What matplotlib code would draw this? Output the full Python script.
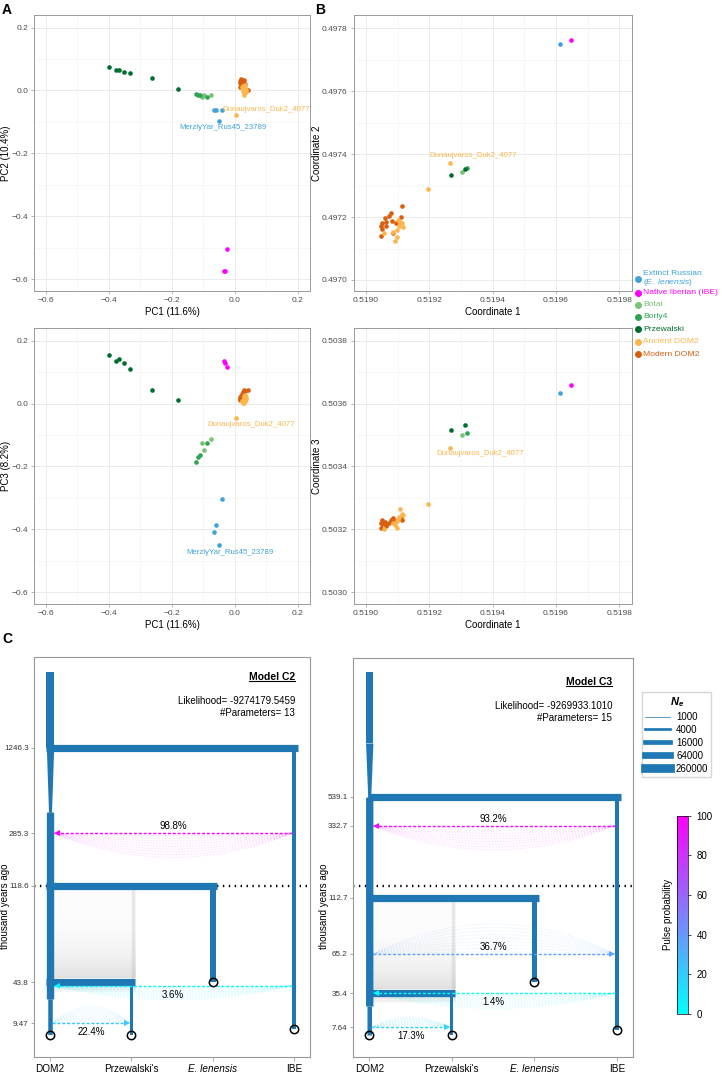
import matplotlib
matplotlib.use('Agg')
import matplotlib.pyplot as plt
import numpy as np
from matplotlib.lines import Line2D
from matplotlib.colors import Normalize
from matplotlib.cm import ScalarMappable
from matplotlib.ticker import FuncFormatter, NullLocator

plt.rcParams['font.family'] = ['Liberation Sans', 'DejaVu Sans']
plt.rcParams['mathtext.fontset'] = 'custom'
plt.rcParams['mathtext.rm'] = 'Liberation Sans'
plt.rcParams['mathtext.it'] = 'Liberation Sans:italic'
plt.rcParams['mathtext.bf'] = 'Liberation Sans:bold:italic'

# ---------------- data: PCA (rows = PC1, PC2, PC3) ----------------
group_labels = ['Extinct Russian\n($\\mathit{E.\\ lenensis}$)', 'Native Iberian (IBE)', 'Botai',
                'Borly4', 'Przewalski', 'Ancient DOM2', 'Modern DOM2']
group_colors = ['#3fa2d8', '#ff00ff', '#74c476', '#31a354', '#006d2c', '#fdb64e', '#d95f0e']

rus_pca = [[-0.065, -0.060, -0.041, -0.050],
           [-0.063, -0.061, -0.061, -0.098],
           [-0.409, -0.387, -0.305, -0.450]]
ibe_pca = [[-0.034, -0.032, -0.025],
           [-0.573, -0.575, -0.503],
           [0.136, 0.130, 0.117]]
botai_pca = [[-0.077, -0.097, -0.103],
             [-0.013, -0.015, -0.020],
             [-0.114, -0.147, -0.124]]
borly_pca = [[-0.124, -0.116, -0.109, -0.089],
             [-0.011, -0.013, -0.014, -0.022],
             [-0.185, -0.170, -0.165, -0.124]]
prz_pca = [[-0.399, -0.378, -0.367, -0.353, -0.332, -0.263, -0.181],
           [0.073, 0.066, 0.066, 0.059, 0.057, 0.039, 0.006],
           [0.155, 0.136, 0.141, 0.128, 0.110, 0.045, 0.013]]
anc_pca = [[0.003, 0.022, 0.025, 0.027, 0.029, 0.031, 0.033, 0.035, 0.030, 0.026, 0.028, 0.034, 0.032, 0.037],
           [-0.077, 0.012, 0.005, -0.002, 0.008, 0.000, 0.010, -0.005, -0.009, 0.015, -0.016, 0.004, 0.018, 0.002],
           [-0.046, 0.010, 0.005, 0.012, 0.002, 0.018, 0.008, 0.015, 0.025, 0.003, 0.020, 0.028, 0.012, 0.022]]
mod_pca = [[0.015, 0.018, 0.020, 0.022, 0.024, 0.025, 0.027, 0.028, 0.030, 0.017, 0.021, 0.026, 0.032, 0.043],
           [0.030, 0.025, 0.033, 0.020, 0.028, 0.015, 0.024, 0.032, 0.018, 0.012, 0.035, 0.010, 0.022, 0.001],
           [0.015, 0.020, 0.025, 0.028, 0.032, 0.030, 0.036, 0.040, 0.044, 0.012, 0.022, 0.026, 0.040, 0.043]]

# ---------------- data: MDS (rows = coord 1, 2, 3) ----------------
rus_mds = [[0.519611], [0.497750], [0.503634]]
ibe_mds = [[0.519647], [0.497764], [0.503661]]
botai_mds = [[0.519302], [0.497344], [0.503499]]
borly_mds = [[0.519320], [0.497355], [0.503508]]
prz_mds = [[0.519267, 0.519313], [0.497333, 0.497352], [0.503515, 0.503531]]
anc_mds = [[0.519265, 0.519196, 0.519107, 0.519113, 0.519105, 0.519097, 0.519092, 0.519058, 0.519099, 0.519086, 0.519116, 0.519102],
           [0.497372, 0.497290, 0.497185, 0.497182, 0.497170, 0.497159, 0.497125, 0.497148, 0.497138, 0.497154, 0.497167, 0.497191],
           [0.503459, 0.503279, 0.503263, 0.503250, 0.503240, 0.503226, 0.503213, 0.503201, 0.503203, 0.503219, 0.503245, 0.503232]]
mod_mds = [[0.519113, 0.519079, 0.519074, 0.519111, 0.519060, 0.519063, 0.519049, 0.519047, 0.519052, 0.519081, 0.519094, 0.519047, 0.519084, 0.519063],
           [0.497235, 0.497212, 0.497203, 0.497200, 0.497196, 0.497185, 0.497180, 0.497170, 0.497161, 0.497189, 0.497180, 0.497141, 0.497148, 0.497172],
           [0.503229, 0.503231, 0.503219, 0.503237, 0.503222, 0.503211, 0.503229, 0.503205, 0.503216, 0.503231, 0.503225, 0.503220, 0.503235, 0.503214]]

pca_sets = [rus_pca, ibe_pca, botai_pca, borly_pca, prz_pca, mod_pca, anc_pca]
mds_sets = [rus_mds, ibe_mds, botai_mds, borly_mds, prz_mds, mod_mds, anc_mds]
set_colors = ['#3fa2d8', '#ff00ff', '#74c476', '#31a354', '#006d2c', '#d95f0e', '#fdb64e']

# ---------------- data: demographic models ----------------
deme_names = ['DOM2', "Przewalski's", 'E. lenensis', 'IBE']
ne_legend = [1000, 4000, 16000, 64000, 260000]

c2_ticks = [9.47, 43.8, 118.6, 285.3, 1246.3]
c2_knot_t = [0, 4.5, 9.47, 43.8, 118.6, 285.3, 1246.3, 2500]
c2_knot_p = [22.2, 27.4, 33.4, 74.4, 171.0, 223.4, 309.0, 384.4]
c2_dom2 = [(2500, 1246.3, 1e5, 1e5), (1246.3, 527, 1e5, 5e3), (527, 30, 1e5, 1e5), (30, 0, 1.4e4, 1.4e4)]
c2_splits = [(1246.3, 3, 1.3e4, 4.5), (118.6, 2, 2.4e4, 43.8), (43.8, 1, 6e3, 0)]
c2_pulses = [(3, 0, 285.3, 98.8, 1, -1, 24), (3, 0, 41.0, 3.6, -1, -1, 14), (0, 1, 9.47, 22.4, -1, 1, 17)]

c3_ticks = [7.64, 35.4, 65.2, 112.7, 332.7, 539.1]
c3_knot_t = [0, 4.5, 7.64, 35.4, 43.8, 65.2, 112.7, 118.6, 332.7, 539.1, 2000]
c3_knot_p = [21.7, 26.7, 29.4, 63.4, 74.4, 102.7, 159.0, 171.0, 231.0, 260.0, 384.4]
c3_dom2 = [(2000, 1170, 1e5, 1e5), (1170, 539.1, 1e5, 5e3), (539.1, 25, 1e5, 1e5), (25, 0, 1.4e4, 1.4e4)]
c3_splits = [(539.1, 3, 1.3e4, 4.5), (112.7, 2, 2.4e4, 43.8), (35.4, 1, 6e3, 0)]
c3_pulses = [(3, 0, 332.7, 93.2, 1, -1, 24), (0, 3, 65.2, 36.7, 1, 1, 30),
             (3, 0, 35.4, 1.4, -1, -1, 15), (0, 1, 7.64, 17.3, -1, 1, 10)]
divider_time = 118.6

DEME_BLUE = '#1f77b4'
W, H = 721, 1074
fig = plt.figure(figsize=(W / 100, H / 100), dpi=100)


def px_axes(l, t, r, b):
    return fig.add_axes([l / W, 1 - b / H, (r - l) / W, (b - t) / H])


def minus_fmt(nd):
    return FuncFormatter(lambda v, p: f'{v:.{nd}f}'.replace('-', '\u2212'))


def gg_style(ax, xt, yt, xd, yd):
    ax.set_xticks(xt)
    ax.set_yticks(yt)
    ax.set_xticks((np.array(xt[:-1]) + np.array(xt[1:])) / 2, minor=True)
    ax.set_yticks((np.array(yt[:-1]) + np.array(yt[1:])) / 2, minor=True)
    ax.xaxis.set_major_formatter(minus_fmt(xd))
    ax.yaxis.set_major_formatter(minus_fmt(yd))
    ax.grid(which='major', color='#ebebeb', lw=0.7)
    ax.grid(which='minor', color='#f3f3f3', lw=0.45)
    ax.set_axisbelow(True)
    for s in ax.spines.values():
        s.set_color('#9a9a9a')
        s.set_linewidth(0.7)
    ax.tick_params(which='major', labelsize=6, labelcolor='#4d4d4d', color='#9a9a9a', length=2.5, width=0.5, pad=2)
    ax.tick_params(which='minor', length=0)


def scatter_sets(ax, sets, i, j):
    for s, c in zip(sets, set_colors):
        ax.scatter(s[i], s[j], s=11, color=c, linewidths=0, zorder=3)


pc_xt = [-0.6, -0.4, -0.2, 0.0, 0.2]
pc_yt = [-0.6, -0.4, -0.2, 0.0, 0.2]
c1_t = [0.5190, 0.5192, 0.5194, 0.5196, 0.5198]

# Panel A
axA1 = px_axes(34.3, 15, 310, 291)
scatter_sets(axA1, pca_sets, 0, 1)
axA1.set_xlim(-0.637, 0.239)
axA1.set_ylim(-0.638, 0.240)
gg_style(axA1, pc_xt, pc_yt, 1, 1)
axA1.set_xlabel('PC1 (11.6%)', fontsize=7, labelpad=2)
axA1.set_ylabel('PC2 (10.4%)', fontsize=7)
axA1.yaxis.set_label_coords(-0.086, 0.5)
axA1.text(0.101, -0.060, 'Dunaujvaros_Duk2_4077', color='#fdb64e', fontsize=5.6, ha='center', va='center')
axA1.text(-0.0376, -0.117, 'MerzlyYar_Rus45_23789', color='#3fa2d8', fontsize=5.6, ha='center', va='center')

axA2 = px_axes(34.3, 328.3, 310, 604)
scatter_sets(axA2, pca_sets, 0, 2)
axA2.set_xlim(-0.637, 0.239)
axA2.set_ylim(-0.638, 0.240)
gg_style(axA2, pc_xt, pc_yt, 1, 1)
axA2.set_xlabel('PC1 (11.6%)', fontsize=7, labelpad=2)
axA2.set_ylabel('PC3 (8.2%)', fontsize=7)
axA2.yaxis.set_label_coords(-0.086, 0.5)
axA2.text(0.052, -0.065, 'Dunaujvaros_Duk2_4077', color='#fdb64e', fontsize=5.6, ha='center', va='center')
axA2.text(-0.0153, -0.473, 'MerzlyYar_Rus45_23789', color='#3fa2d8', fontsize=5.6, ha='center', va='center')

# Panel B
axB1 = px_axes(354, 15, 631.7, 291)
scatter_sets(axB1, mds_sets, 0, 1)
axB1.set_xlim(0.518962, 0.519839)
axB1.set_ylim(0.496965, 0.497842)
gg_style(axB1, c1_t, [0.4970, 0.4972, 0.4974, 0.4976, 0.4978], 4, 4)
axB1.set_xlabel('Coordinate 1', fontsize=7, labelpad=2)
axB1.set_ylabel('Coordinate 2', fontsize=7)
axB1.yaxis.set_label_coords(-0.116, 0.5)
axB1.text(0.519339, 0.497395, 'Dunaujvaros_Duk2_4077', color='#fdb64e', fontsize=5.6, ha='center', va='center')

axB2 = px_axes(354, 328.3, 631.7, 604)
scatter_sets(axB2, mds_sets, 0, 2)
axB2.set_xlim(0.518962, 0.519839)
axB2.set_ylim(0.502962, 0.503840)
gg_style(axB2, c1_t, [0.5030, 0.5032, 0.5034, 0.5036, 0.5038], 4, 4)
axB2.set_xlabel('Coordinate 1', fontsize=7, labelpad=2)
axB2.set_ylabel('Coordinate 3', fontsize=7)
axB2.yaxis.set_label_coords(-0.116, 0.5)
axB2.text(0.519361, 0.503441, 'Dunaujvaros_Duk2_4077', color='#fdb64e', fontsize=5.6, ha='center', va='center')

# group legend (key dot + coloured label per group)
key_y = [279.3, 292.7, 304.5, 316.8, 329.3, 341.8, 354.3]
for lab, col, y in zip(group_labels, group_colors, key_y):
    fig.add_artist(Line2D([637.5 / W], [1 - y / H], ls='', marker='o', ms=4, color=col,
                          transform=fig.transFigure))
    fig.text(643 / W, 1 - y / H, lab, color=col, fontsize=6.1, ha='left', va='center',
             linespacing=0.95)


# ---------------- Panel C ----------------
def make_scale(kt, kp):
    kt = np.asarray(kt, float)
    kp = np.asarray(kp, float)
    s0 = (kp[1] - kp[0]) / (kt[1] - kt[0])
    s1 = (kp[-1] - kp[-2]) / (kt[-1] - kt[-2])

    def fwd(t):
        t = np.asarray(t, float)
        f = t.ravel()
        p = np.interp(f, kt, kp)
        p = np.where(f < kt[0], kp[0] + (f - kt[0]) * s0, p)
        p = np.where(f > kt[-1], kp[-1] + (f - kt[-1]) * s1, p)
        return p.reshape(t.shape)

    def inv(p):
        p = np.asarray(p, float)
        f = p.ravel()
        t = np.interp(f, kp, kt)
        t = np.where(f < kp[0], kt[0] + (f - kp[0]) / s0, t)
        t = np.where(f > kp[-1], kt[-1] + (f - kp[-1]) / s1, t)
        return t.reshape(p.shape)
    return fwd, inv


def ne_px(ne):
    return 0.7 + 2 * np.log(np.asarray(ne, float) / 1000) / np.log(4)


def ne_at(epochs, t):
    for t0, t1, n0, n1 in epochs:
        if t1 <= t <= t0:
            return n0 * (n1 / n0) ** ((t0 - t) / (t0 - t1))
    return epochs[-1][3]


def draw_model(ax, wpx, hpx, kt, kp, ticks, dom2, splits, pulses, title, lik, npar, tpos):
    fwd, inv = make_scale(kt, kp)
    ax.set_yscale('function', functions=(fwd, inv))
    ax.set_xlim(-0.193, 3.193)
    ax.set_ylim(float(inv(0.0)), float(inv(float(hpx))))
    upx = 3.386 / wpx

    epochs = {0: dom2}
    for ts, child, ne, tsamp in splits:
        epochs[child] = [(ts, tsamp, ne, ne)]

    def half(d, t):
        return ne_px(ne_at(epochs[d], t)) * upx / 2

    # grey shading between the E. lenensis and Przewalski splits (darker towards the bottom)
    t_top = splits[1][0]
    t_bot = splits[2][0]
    x0 = half(0, t_bot)
    x1 = 1 + 0.05
    p = np.linspace(fwd(t_bot) + 4, fwd(t_top) - 4, 40)
    for i in range(len(p) - 1):
        a = 0.20 * (1 - i / (len(p) - 1)) ** 3 + 0.015
        ax.fill_between([x0, x1], inv(p[i]), inv(p[i + 1]), color='0.45', alpha=a, lw=0,
                        antialiased=False, zorder=1)
    ps = np.linspace(fwd(t_bot) - 10, fwd(t_bot) - 3, 6)
    for i in range(len(ps) - 1):
        ax.fill_between([x0, x1], inv(ps[i]), inv(ps[i + 1]), color='0.45', alpha=0.04 + 0.035 * i,
                        lw=0, antialiased=False, zorder=1)
    ax.plot([1.02, 1.02], [t_top, t_bot], color='0.6', alpha=0.2, lw=2.5, zorder=1)

    ax.axhline(divider_time, color='k', lw=1.7, ls=(0, (0.6, 1.9)), zorder=2)

    # demes
    for d, eps in epochs.items():
        for t0, t1, n0, n1 in eps:
            tt = np.linspace(t0, t1, 80)
            w = np.array([half(d, v) for v in tt])
            ax.fill_betweenx(tt, d - w, d + w, color=DEME_BLUE, lw=0, zorder=3)
    for ts, child, ne, tsamp in splits:
        ax.plot([-half(0, ts), child + half(child, ts) + 0.02], [ts, ts], color=DEME_BLUE, lw=5.2,
                solid_capstyle='butt', zorder=3)
        ax.plot(child, tsamp, 'o', ms=6, mfc='none', mec='k', mew=1.1, zorder=6)
    ax.plot(0, 0, 'o', ms=6, mfc='none', mec='k', mew=1.1, zorder=6)

    # pulses
    for src, dst, t, prob, lab_side, arc_side, sag in pulses:
        col = plt.cm.cool(prob / 100)
        dr = np.sign(dst - src)
        xs = src + dr * half(src, t)
        xe = dst - dr * half(dst, t)
        u = np.linspace(0, 1, 40)
        for k in np.linspace(2, sag, 9):
            pp = fwd(t) + arc_side * k * 4 * u * (1 - u)
            ax.plot(xs + (xe - xs) * u, inv(pp), color=col, alpha=0.12, lw=0.8, ls=(0, (1.5, 1.2)), zorder=2)
        ax.plot([xs, xe - dr * 0.04], [t, t], color=col, lw=1.0, ls=(0, (2.2, 1.3)), zorder=4)
        ax.plot(xe - dr * 0.035, t, marker='>' if dr > 0 else '<', ms=4.5, color=col, mew=0, zorder=5)
        off = 5 if lab_side > 0 else -6.5
        ax.annotate(f'{prob}%', xy=((xs + xe) / 2, t), xytext=(0, off), textcoords='offset points',
                    ha='center', va='center', fontsize=7, zorder=7)

    ax.set_yticks(ticks)
    ax.set_yticklabels([f'{v:g}' for v in ticks])
    ax.yaxis.set_minor_locator(NullLocator())
    ax.set_xticks([0, 1, 2, 3])
    labs = ax.set_xticklabels(deme_names)
    labs[2].set_fontstyle('italic')
    ax.tick_params(axis='y', labelsize=5.8, labelcolor='#333333', color='#999999', length=2.5, width=0.6, pad=1.5)
    ax.tick_params(axis='x', labelsize=7.2, color='#999999', length=3, width=0.6, pad=2)
    for s in ax.spines.values():
        s.set_color('#999999')
        s.set_linewidth(0.8)
    ax.set_ylabel('thousand years ago', fontsize=7)
    ax.yaxis.set_label_coords(-24.5 / wpx, 0.377)

    ttl = ax.text(tpos[0], tpos[1], title, transform=ax.transAxes, ha='right', va='center',
                  fontsize=7.5, fontweight='bold')
    ax.text(tpos[0], tpos[2], f'Likelihood= {lik}', transform=ax.transAxes, ha='right', va='center', fontsize=7)
    ax.text(tpos[0], tpos[3], f'#Parameters= {npar}', transform=ax.transAxes, ha='right', va='center', fontsize=7)
    return ttl


axC2 = px_axes(34.3, 657.3, 310, 1056.7)
t2 = draw_model(axC2, 275.7, 399.4, c2_knot_t, c2_knot_p, c2_ticks, c2_dom2, c2_splits, c2_pulses,
                'Model C2', '-9274179.5459', 13, (0.9456, 0.9514, 0.891, 0.860))
axC3 = px_axes(353.3, 658.3, 632.7, 1056.7)
t3 = draw_model(axC3, 279.4, 398.4, c3_knot_t, c3_knot_p, c3_ticks, c3_dom2, c3_splits, c3_pulses,
                'Model C3', '-9269933.1010', 15, (0.927, 0.941, 0.881, 0.851))

# Ne legend
ne_handles = [Line2D([], [], color=DEME_BLUE, lw=float(ne_px(n)) * 0.72) for n in ne_legend]
fig.legend(ne_handles, [str(n) for n in ne_legend], title='$\\mathbf{N}_\\mathbf{e}$', loc='upper left',
           bbox_to_anchor=(642 / W, 1 - 692.3 / H), fontsize=7, title_fontsize=8, frameon=True,
           fancybox=False, edgecolor='#cccccc', handlelength=2.6, labelspacing=0.3, borderpad=0.3,
           borderaxespad=0, handletextpad=0.6)

# colorbar
cax = fig.add_axes([677.3 / W, 1 - 1014 / H, 11 / W, 198.3 / H])
sm = ScalarMappable(norm=Normalize(0, 100), cmap='cool')
cb = fig.colorbar(sm, cax=cax)
cb.set_ticks([0, 20, 40, 60, 80, 100])
cb.ax.tick_params(labelsize=7, length=2.5, width=0.5)
cb.outline.set_linewidth(0.5)
cax.yaxis.set_label_position('left')
cb.set_label('Pulse probability', fontsize=7, labelpad=3)

# panel letters
fig.text(2 / W, 1 - 3 / H, 'A', fontsize=10, fontweight='bold', va='top')
fig.text(315 / W, 1 - 3 / H, 'B', fontsize=10, fontweight='bold', va='top')
fig.text(2 / W, 1 - 632 / H, 'C', fontsize=10, fontweight='bold', va='top')

# underline model titles
fig.canvas.draw()
r = fig.canvas.get_renderer()
for t in (t2, t3):
    bb = t.get_window_extent(r)
    (fx0, fy0), (fx1, _) = fig.transFigure.inverted().transform([[bb.x0, bb.y0], [bb.x1, bb.y1]])
    fig.add_artist(Line2D([fx0, fx1], [fy0 + 0.4 / H, fy0 + 0.4 / H], transform=fig.transFigure, color='k', lw=0.8))

fig.savefig('out.png', dpi=100)
